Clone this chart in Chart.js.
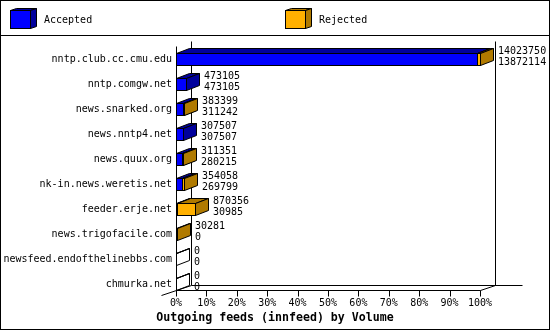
<!DOCTYPE html>
<html>
<head>
<meta charset="utf-8">
<script src="https://cdn.jsdelivr.net/npm/chart.js@4/dist/chart.umd.min.js"></script>
<style>
  html, body { margin: 0; padding: 0; background: #fff; }
  #wrap { width: 550px; height: 330px; }
</style>
</head>
<body>
<div id="wrap"><canvas id="feedChart" width="550" height="330"></canvas></div>
<script>
// Outgoing feeds (innfeed) by volume, numbers as printed next to each bar
const feeds = [
    'nntp.club.cc.cmu.edu',
    'nntp.comgw.net',
    'news.snarked.org',
    'news.nntp4.net',
    'news.quux.org',
    'nk-in.news.weretis.net',
    'feeder.erje.net',
    'news.trigofacile.com',
    'newsfeed.endofthelinebbs.com',
    'chmurka.net'
];
const offered  = [14023750, 473105, 383399, 307507, 311351, 354058, 870356, 30281, 0, 0];
const accepted = [13872114, 473105, 311242, 307507, 280215, 269799, 30985, 0, 0, 0];
const seriesNames = ['Accepted', 'Rejected'];
const xTicks = [0, 10, 20, 30, 40, 50, 60, 70, 80, 90, 100];
const chartTitle = 'Outgoing feeds (innfeed) by Volume';

// bars are scaled against the biggest feed
const maxOffered = Math.max(...offered);
const acceptedPct = accepted.map(v => v / maxOffered * 100);
const rejectedPct = offered.map((v, i) => (v - accepted[i]) / maxOffered * 100);

const faces = [
    { front: '#0000ff', dark: '#00009c' },
    { front: '#ffb000', dark: '#b07a00' }
];
const MONO = '"DejaVu Sans Mono", "Liberation Mono", monospace';
const BAR_DX = 13, BAR_DY = 5;     // depth of the bars
const FLOOR_DX = 15, FLOOR_DY = 5; // depth of the back wall

function px(v) { return Math.round(v) + 0.5; }

// draw a box with front face, top face and side face
function drawBox(ctx, x0, x1, top, bottom, dx, dy, face, filled) {
    x0 = px(x0); x1 = px(x1); top = px(top); bottom = px(bottom);
    ctx.lineWidth = 1;
    ctx.strokeStyle = '#000';

    const topFace = [[x0, top], [x1, top], [x1 + dx, top - dy], [x0 + dx, top - dy]];
    const sideFace = [[x1, top], [x1, bottom], [x1 + dx, bottom - dy], [x1 + dx, top - dy]];
    [topFace, sideFace].forEach(poly => {
        ctx.beginPath();
        ctx.moveTo(poly[0][0], poly[0][1]);
        for (let k = 1; k < poly.length; k++) ctx.lineTo(poly[k][0], poly[k][1]);
        ctx.closePath();
        if (filled) {
            ctx.fillStyle = face.dark;
            ctx.fill();
        }
        ctx.stroke();
    });
    if (filled) {
        ctx.fillStyle = face.front;
        ctx.fillRect(x0, top, x1 - x0, bottom - top);
    }
    ctx.strokeRect(x0, top, x1 - x0, bottom - top);
}

function line(ctx, xa, ya, xb, yb) {
    ctx.beginPath();
    ctx.moveTo(xa, ya);
    ctx.lineTo(xb, yb);
    ctx.stroke();
}

const box3dPlugin = {
    id: 'box3d',
    beforeDatasetsDraw(chart) {
        const ctx = chart.ctx;
        const xs = chart.scales.x, ys = chart.scales.y;
        const bar = chart.getDatasetMeta(0).data[feeds.length - 1];
        const top = chart.chartArea.top;
        const floorY = px(bar.y + bar.height / 2);
        const x0 = px(xs.getPixelForValue(0));
        const x100 = px(xs.getPixelForValue(100));

        ctx.save();
        ctx.strokeStyle = '#000';
        ctx.lineWidth = 1;
        // back wall
        line(ctx, x0, top, x0, floorY);
        line(ctx, x0 + FLOOR_DX, top - FLOOR_DY, x0 + FLOOR_DX, floorY - FLOOR_DY);
        line(ctx, x100 + FLOOR_DX, top - FLOOR_DY, x100 + FLOOR_DX, floorY - FLOOR_DY);
        line(ctx, x0 + FLOOR_DX, floorY - FLOOR_DY, x100 + FLOOR_DX + 27, floorY - FLOOR_DY);
        // floor
        line(ctx, x0, floorY, x100, floorY);
        line(ctx, x100, floorY, x100 + FLOOR_DX, floorY - FLOOR_DY);
        line(ctx, x0 - FLOOR_DX, floorY + FLOOR_DY, x0 + FLOOR_DX, floorY - FLOOR_DY);
        // tick marks
        xTicks.forEach(t => {
            const x = px(xs.getPixelForValue(t));
            line(ctx, x, floorY, x, floorY + 6);
        });
        ctx.restore();
    },
    afterDatasetsDraw(chart) {
        const ctx = chart.ctx;
        ctx.save();
        feeds.forEach((name, j) => {
            const empty = offered[j] === 0;
            let xEnd = null, yMid = null;
            chart.data.datasets.forEach((ds, i) => {
                const el = chart.getDatasetMeta(i).data[j];
                const top = el.y - el.height / 2, bottom = el.y + el.height / 2;
                yMid = el.y;
                if (empty) {
                    if (i === 0) drawBox(ctx, el.base, el.x, top, bottom, BAR_DX, BAR_DY, faces[i], false);
                } else if (ds.data[j] > 0) {
                    drawBox(ctx, el.base, el.x, top, bottom, BAR_DX, BAR_DY, faces[i], true);
                }
                xEnd = el.x;
            });
            // offered on top, accepted below
            ctx.fillStyle = '#000';
            ctx.font = '10px ' + MONO;
            ctx.textAlign = 'left';
            ctx.textBaseline = 'middle';
            const tx = Math.round(xEnd) + BAR_DX + 5;
            ctx.fillText(String(offered[j]), tx, yMid - 8);
            ctx.fillText(String(accepted[j]), tx, yMid + 3);
        });
        ctx.restore();
    },
    afterDraw(chart) {
        const ctx = chart.ctx;
        ctx.save();
        ctx.strokeStyle = '#000';
        ctx.lineWidth = 1;
        ctx.strokeRect(0.5, 0.5, chart.width - 1, chart.height - 1);
        line(ctx, 0, 35.5, chart.width, 35.5);

        // legend with little cubes
        const legendX = [10, 285];
        seriesNames.forEach((name, i) => {
            drawBox(ctx, legendX[i], legendX[i] + 20, 10, 28, 6, 2, faces[i], true);
            ctx.fillStyle = '#000';
            ctx.font = '10px ' + MONO;
            ctx.textAlign = 'left';
            ctx.textBaseline = 'middle';
            ctx.fillText(name, legendX[i] + 34, 20);
        });

        ctx.font = 'bold 11.6px ' + MONO;
        ctx.textAlign = 'center';
        ctx.textBaseline = 'middle';
        ctx.fillText(chartTitle, chart.width / 2, 318);
        ctx.restore();
    }
};

const ctx = document.getElementById('feedChart').getContext('2d');
const feedChart = new Chart(ctx, {
    type: 'bar',
    data: {
        labels: feeds,
        datasets: seriesNames.map((name, i) => ({
            label: name,
            data: i === 0 ? acceptedPct : rejectedPct,
            backgroundColor: 'rgba(0,0,0,0)',
            borderWidth: 0,
            barThickness: 12
        }))
    },
    options: {
        indexAxis: 'y',
        responsive: false,
        animation: false,
        devicePixelRatio: 1,
        layout: { padding: { top: 46.5, right: 70, bottom: 13.5, left: 0 } },
        plugins: {
            legend: { display: false },
            tooltip: { enabled: false }
        },
        scales: {
            x: {
                type: 'linear',
                stacked: true,
                min: 0,
                max: 100,
                grid: { display: false, drawTicks: false },
                border: { display: false },
                afterBuildTicks: scale => { scale.ticks = xTicks.map(v => ({ value: v })); },
                afterFit: scale => { scale.height = 20; },
                ticks: {
                    autoSkip: false,
                    maxRotation: 0,
                    padding: 1,
                    color: '#000',
                    font: { family: MONO, size: 10 },
                    callback: v => v + '%'
                }
            },
            y: {
                stacked: true,
                grid: { display: false, drawTicks: false },
                border: { display: false },
                afterFit: scale => { scale.width = 176; },
                ticks: {
                    padding: 4,
                    color: '#000',
                    font: { family: MONO, size: 10 }
                }
            }
        }
    },
    plugins: [box3dPlugin]
});
</script>
</body>
</html>
